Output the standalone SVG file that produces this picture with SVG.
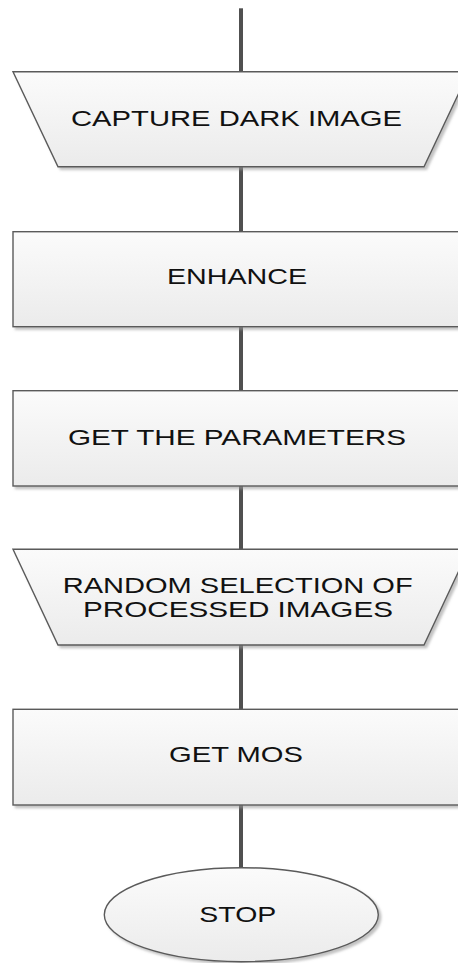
<svg xmlns="http://www.w3.org/2000/svg" width="458" height="963" viewBox="0 0 458 963">
<defs>
<linearGradient id="g" x1="0" y1="0" x2="0" y2="1">
<stop offset="0" stop-color="#fbfbfb"/>
<stop offset="1" stop-color="#ebebeb"/>
</linearGradient>
<filter id="sh" x="-10%" y="-10%" width="130%" height="130%">
<feDropShadow dx="2.5" dy="2.5" stdDeviation="1" flood-color="#9a9a9a" flood-opacity="0.6"/>
</filter>
</defs>
<style>
.shape{fill:url(#g);stroke:#5a5a5a;stroke-width:1.4;filter:url(#sh)}
.conn{stroke:#505050;stroke-width:4;fill:none}
text{font-family:"Liberation Sans",Arial,sans-serif;font-size:21.5px;fill:#111}
</style>
<rect width="458" height="963" fill="#ffffff"/>
<g id="connectors">
<line class="conn" x1="241" y1="8.3" x2="241" y2="72"/>
<line class="conn" x1="241" y1="167" x2="241" y2="232"/>
<line class="conn" x1="241" y1="327" x2="241" y2="391"/>
<line class="conn" x1="241" y1="486" x2="241" y2="549.5"/>
<line class="conn" x1="241" y1="645" x2="241" y2="709.5"/>
<line class="conn" x1="241" y1="805" x2="241" y2="868"/>
</g>
<g id="capture">
<polygon class="shape" points="13,71.7 469,71.7 424,166.7 58,166.7"/>
<text x="71" y="125.5" textLength="331" lengthAdjust="spacingAndGlyphs">CAPTURE DARK IMAGE</text>
</g>
<g id="enhance">
<rect class="shape" x="13" y="231.7" width="456" height="95"/>
<text x="167" y="284.3" textLength="140" lengthAdjust="spacingAndGlyphs">ENHANCE</text>
</g>
<g id="params">
<rect class="shape" x="13" y="390.7" width="456" height="95.3"/>
<text x="68" y="445" textLength="338" lengthAdjust="spacingAndGlyphs">GET THE PARAMETERS</text>
</g>
<g id="random">
<polygon class="shape" points="13,549.3 469,549.3 424,645 58,645"/>
<text x="62.7" y="593.3" textLength="350" lengthAdjust="spacingAndGlyphs">RANDOM SELECTION OF</text>
<text x="83" y="616.7" textLength="310" lengthAdjust="spacingAndGlyphs">PROCESSED IMAGES</text>
</g>
<g id="mos">
<rect class="shape" x="13" y="709.3" width="456" height="95.7"/>
<text x="169" y="762.3" textLength="134" lengthAdjust="spacingAndGlyphs">GET MOS</text>
</g>
<g id="stop">
<ellipse class="shape" cx="241.3" cy="914.7" rx="137" ry="47"/>
<text x="199.3" y="921.7" textLength="77" lengthAdjust="spacingAndGlyphs">STOP</text>
</g>
</svg>
